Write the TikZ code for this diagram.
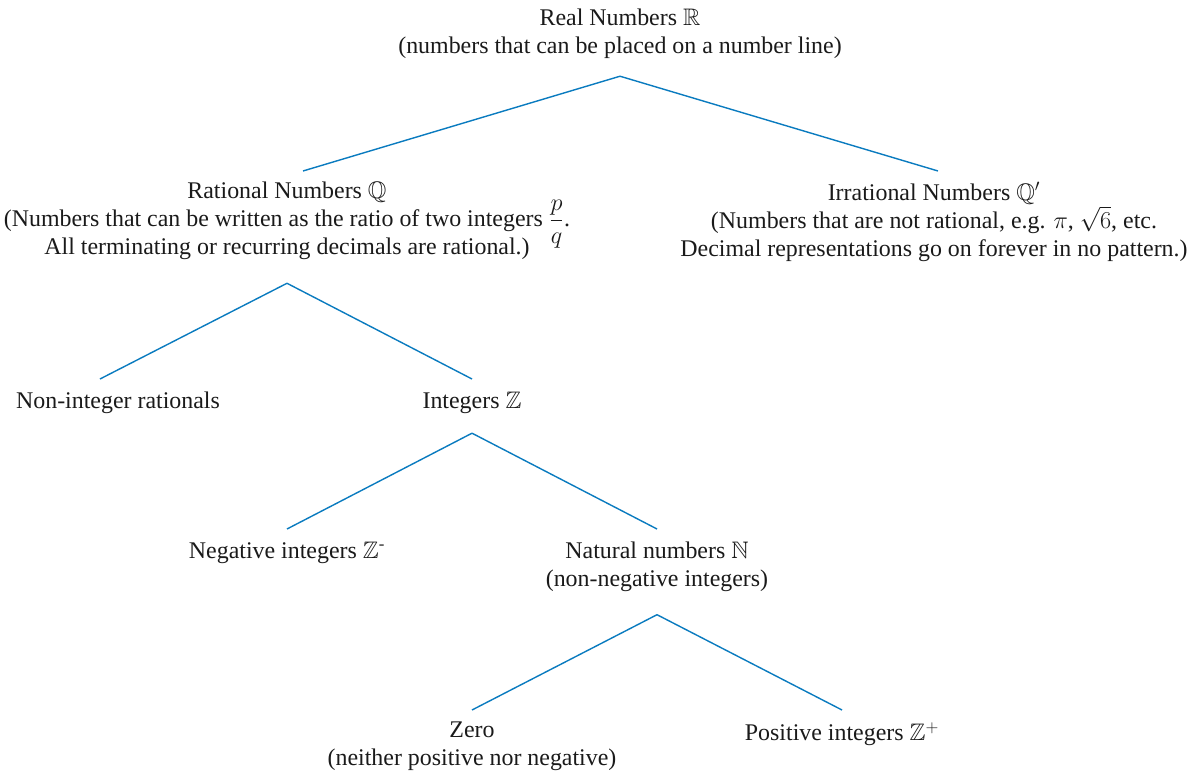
\documentclass[tikz,border=0pt]{standalone}
\usepackage{amsmath,amssymb}
\usepackage{fontspec}
\setmainfont{Liberation Serif}
\definecolor{ink}{HTML}{1A1A1A}
\definecolor{treeblue}{HTML}{0A7BBF}

\begin{document}
\begin{tikzpicture}[x=0.025cm,y=-0.025cm,font=\fontsize{17}{19.9}\selectfont,
    every node/.style={anchor=north,inner sep=0pt,align=center,text=ink},
    branch/.style={treeblue,line width=1pt}]
  \useasboundingbox (0,0) rectangle (1200,773);
  \node (real) at (620,9) {Real Numbers $\mathbb{R}$\\(numbers that can be placed on a number line)};
  \node (rat) at (287,182) {Rational Numbers $\mathbb{Q}$\\(Numbers that can be written as the ratio of two integers \smash{$\dfrac{p}{q}$}.\\All terminating or recurring decimals are rational.)};
  \node (irr) at (934,182) {Irrational Numbers $\mathbb{Q}'$\\(Numbers that are not rational, e.g. $\pi$, $\sqrt{6}$, etc.\\Decimal representations go on forever in no pattern.)};
  \node (nonint) at (118,392) {Non-integer rationals};
  \node (int) at (472,392) {Integers $\mathbb{Z}$};
  \node (neg) at (287,542) {Negative integers $\mathbb{Z}^{\text{-}}$};
  \node (nat) at (657,542) {Natural numbers $\mathbb{N}$\\(non-negative integers)};
  \node (zero) at (472,722) {Zero\\(neither positive nor negative)};
  \node (pos) at (842,722) {Positive integers $\mathbb{Z}^{+}$};

  \draw[branch] ([yshift=-0.425cm]real.south) -- ([xshift=0.4cm,yshift=0.275cm]rat.north);
  \draw[branch] ([yshift=-0.425cm]real.south) -- ([xshift=0.1cm,yshift=0.275cm]irr.north);
  \draw[branch] ([yshift=-0.575cm]rat.south) -- ([xshift=-0.45cm,yshift=0.325cm]nonint.north);
  \draw[branch] ([yshift=-0.575cm]rat.south) -- ([yshift=0.325cm]int.north);
  \draw[branch] ([yshift=-0.475cm]int.south) -- ([yshift=0.325cm]neg.north);
  \draw[branch] ([yshift=-0.475cm]int.south) -- ([yshift=0.325cm]nat.north);
  \draw[branch] ([yshift=-0.56cm]nat.south) -- ([yshift=0.3cm]zero.north);
  \draw[branch] ([yshift=-0.56cm]nat.south) -- ([yshift=0.3cm]pos.north);
\end{tikzpicture}
\end{document}
